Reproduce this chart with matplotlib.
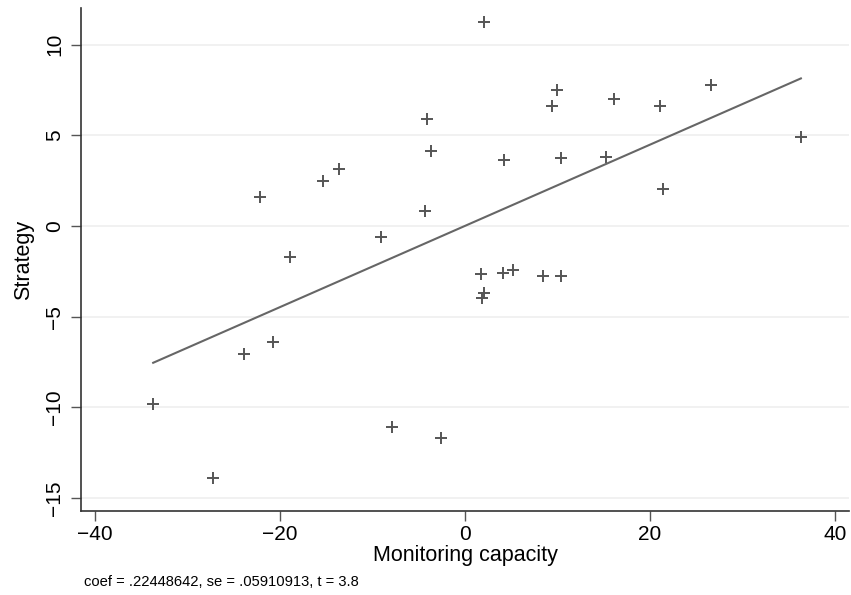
import numpy as np
import matplotlib
matplotlib.use("Agg")
import matplotlib.pyplot as plt

plt.rcParams['font.family'] = ['Liberation Sans', 'DejaVu Sans']

# monitoring capacity (x) and strategy (y)
monitoring = [-33.7, -27.2, -23.9, -20.7, -22.2, -18.9, -15.4, -13.6, -9.1, -4.3,
              -4.1, -3.7, 2.05, 4.25, 9.95, 9.4, 10.4, 1.7, 4.1, 5.2,
              8.4, 10.4, 2.05, 1.8, -7.9, -2.6, 16.1, 21.1, 26.6, 36.3,
              15.2, 21.4]
strategy = [-9.8, -13.9, -7.06, -6.38, 1.6, -1.69, 2.47, 3.15, -0.62, 0.83,
            5.9, 4.12, 11.26, 3.66, 7.49, 6.62, 3.77, -2.67, -2.58, -2.45,
            -2.74, -2.76, -3.68, -3.95, -11.07, -11.72, 6.99, 6.64, 7.76, 4.91,
            3.83, 2.04]
xticks = [-40, -20, 0, 20, 40]
yticks = [-15, -10, -5, 0, 5, 10]
note = "coef = .22448642, se = .05910913, t = 3.8"

x = np.array(monitoring)
y = np.array(strategy)
slope, intercept = np.polyfit(x, y, 1)
xl = np.array([x.min(), x.max()])

fig = plt.figure(figsize=(8.51, 5.95), dpi=100)
ax = fig.add_axes([81/851, 1-511/595, 768/851, 503/595])

for t in yticks:
    ax.axhline(t, color='#efefef', lw=1.2, zorder=0)

ax.plot(x, y, '+', color='#555555', markersize=9, mew=1.4)
ax.plot(xl, slope*xl + intercept, color='#666666', lw=1.5)

ax.set_xlim(-41.5, 41.5)
ax.set_ylim(-15.73, 12.03)
ax.set_xticks(xticks)
ax.set_yticks(yticks)
ax.set_xticklabels([str(t).replace('-', '\u2212') for t in xticks])
ax.set_yticklabels([str(t).replace('-', '\u2212') for t in yticks], rotation=90, va='center')
ax.tick_params(labelsize=15, length=7, color='#555555', width=1)
ax.tick_params(axis='x', pad=3)
ax.tick_params(axis='y', pad=5)

for s in ['top', 'right']:
    ax.spines[s].set_visible(False)
for s in ['left', 'bottom']:
    ax.spines[s].set_color('#333333')
    ax.spines[s].set_linewidth(1.2)

ax.set_xlabel("Monitoring capacity", fontsize=15.5, labelpad=1)
ax.set_ylabel("Strategy", fontsize=15.5, labelpad=8)

fig.text(84/851, 1-582/595, note, fontsize=10.6, va='center', ha='left')

fig.savefig("out.png", dpi=100)
